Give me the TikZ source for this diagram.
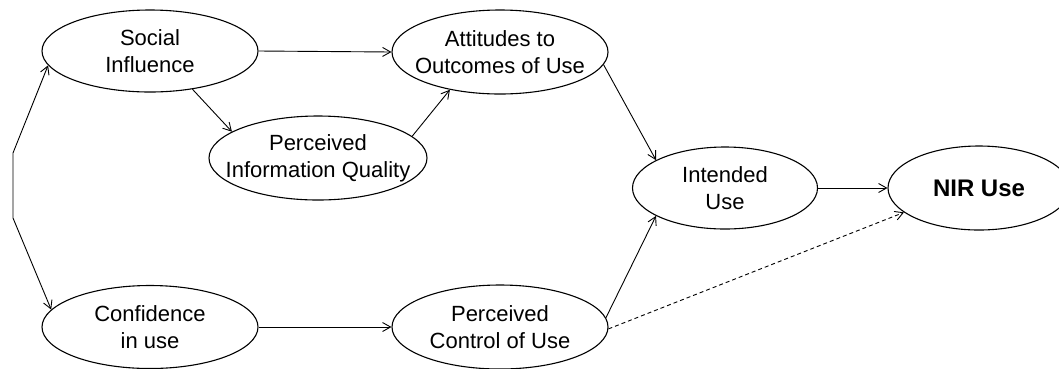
\documentclass[tikz,border=0pt]{standalone}
\usepackage{fontspec}
\setmainfont{Liberation Sans}
\usetikzlibrary{shapes.geometric,arrows.meta}
\begin{document}
\begin{tikzpicture}[x=1pt,y=-1pt,
  ell/.style={draw,line width=1.1pt,ellipse,inner sep=0pt},
  txt/.style={inner sep=0pt,align=center,font=\fontsize{22}{27}\selectfont},
  conn/.style={line width=0.9pt,-{Straight Barb[length=8pt,width=9pt,line width=0.9pt]}},
  dconn/.style={conn,dash pattern=on 4pt off 3pt}]
\useasboundingbox (0,0) rectangle (1059,368);
\node[ell,minimum width=216pt,minimum height=82pt] (si) at (150,51) {};
\node[ell,minimum width=216pt,minimum height=84pt] (att) at (500,52) {};
\node[ell,minimum width=218pt,minimum height=84pt] (piq) at (318,158) {};
\node[ell,minimum width=185pt,minimum height=82pt] (int) at (725,188) {};
\node[ell,minimum width=182pt,minimum height=84pt] (nir) at (979,188) {};
\node[ell,minimum width=216pt,minimum height=83pt] (conf) at (150,327) {};
\node[ell,minimum width=216pt,minimum height=84pt] (pcu) at (500,327) {};
\node[txt] (sit) at (si) {Social\\Influence};
\node[txt] (attt) at (att) {Attitudes to\\Outcomes of Use};
\node[txt] (piqt) at (piq) {Perceived\\Information Quality};
\node[txt] (intt) at (int) {Intended\\Use};
\node[txt,font=\fontsize{24}{27}\selectfont\bfseries] (nirt) at (nir) {NIR Use};
\node[txt] (conft) at (conf) {Confidence\\in use};
\node[txt] (pcut) at (pcu) {Perceived\\Control of Use};
\coordinate (b1) at (13,153);
\coordinate (b2) at (13,218);
\draw[conn] (si.east) -- (att.west);
\draw[conn] (si.-42) -- (piq.163.5);
\draw[conn] (piq.13) -- (att.-143);
\draw[conn] (att.-7) -- (int.158);
\draw[conn] (int.east) -- (nir.west);
\draw[conn] (conf.east) -- (pcu.west);
\draw[conn] (pcu.5) -- (int.202.5);
\draw[dconn] (pcu.-1) -- (nir.198.7);
\draw[line width=0.9pt,{Straight Barb[length=8pt,width=9pt,line width=0.9pt]}-{Straight Barb[length=8pt,width=9pt,line width=0.9pt]}] (si.188.8) -- (b1) -- (b2) -- (conf.170.6);
\end{tikzpicture}
\end{document}
